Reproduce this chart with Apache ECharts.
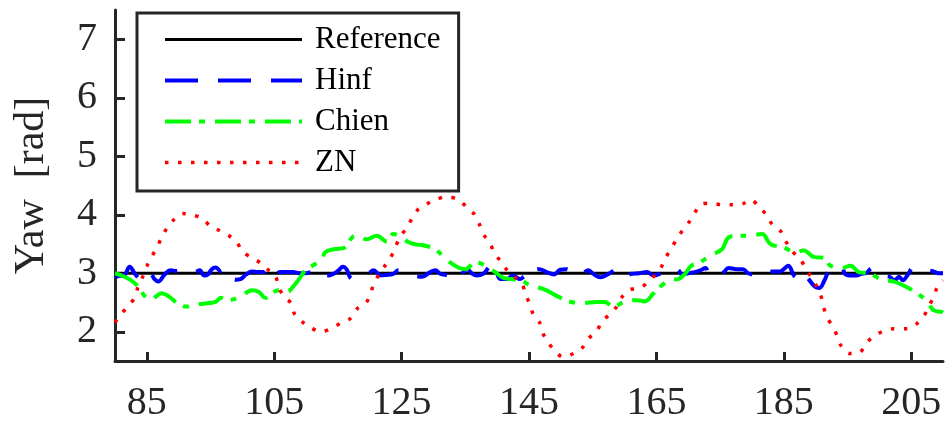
<!DOCTYPE html>
<html>
<head>
<meta charset="utf-8">
<script src="https://cdn.jsdelivr.net/npm/echarts@6/dist/echarts.min.js"></script>
<style>
html,body{margin:0;padding:0;background:#fff;}
#chart{width:947px;height:425px;}
</style>
</head>
<body>
<div id="chart"></div>
<script>
// ---- data ----
const seriesNames = ['Reference', 'Hinf', 'Chien', 'ZN'];
const xTicks = [85, 105, 125, 145, 165, 185, 205];
const yTicks = [2, 3, 4, 5, 6, 7];

const refT = [80, 210];
const refV = [3, 3];

const hinfT = [80, 80.5, 81.5, 82.3, 83.2, 84.0, 84.8, 85.6, 86.2, 86.8, 87.8, 88.7, 89.7, 90.7, 91.7, 92.5, 93.3, 94.0, 94.6, 95.2, 95.8, 96.6, 97.3, 98.1, 98.9, 99.7, 100.6, 101.5, 102.5, 103.3, 103.7, 104.1, 105.0, 106.0, 107.0, 108.0, 108.9, 109.9, 110.8, 111.4, 112.2, 113.3, 114.3, 115.1, 115.8, 116.4, 116.9, 117.4, 118.6, 119.8, 120.6, 121.3, 121.6, 122.6, 123.7, 124.5, 125.3, 126.3, 127.3, 128.2, 129.5, 130.3, 131.1, 132.4, 133.2, 134.0, 134.7, 135.3, 136.0, 136.8, 137.8, 138.6, 139.4, 140.5, 141.5, 142.5, 143.6, 144.4, 145.2, 146.0, 146.6, 147.8, 148.9, 149.9, 150.9, 151.9, 152.7, 153.5, 154.3, 155.1, 156.2, 157.5, 158.8, 159.5, 160.3, 161.1, 162.3, 163.5, 164.6, 165.8, 166.6, 167.4, 167.9, 168.5, 169.0, 170.0, 171.0, 171.9, 172.7, 173.4, 174.7, 175.6, 176.3, 177.6, 178.6, 179.4, 180.7, 182.0, 182.8, 184.4, 185.0, 185.7, 186.6, 187.2, 188.0, 188.9, 189.9, 190.6, 191.4, 192.0, 192.8, 194.1, 194.6, 195.6, 196.4, 197.2, 197.9, 198.9, 200.1, 200.6, 201.6, 202.4, 203.1, 203.7, 204.5, 205.3, 206.3, 207.6, 208.5, 209.3, 210];
const hinfV = [2.93, 2.95, 2.97, 3.11, 2.98, 2.90, 3.02, 3.00, 2.90, 2.86, 2.98, 3.05, 3.04, 3.07, 3.07, 3.02, 3.05, 2.96, 2.98, 3.07, 3.10, 3.04, 3.09, 2.96, 2.89, 2.90, 2.98, 3.03, 3.02, 3.02, 3.05, 2.92, 2.97, 3.02, 3.02, 3.02, 3.00, 3.00, 3.02, 2.93, 2.96, 2.96, 2.99, 3.05, 3.11, 3.06, 2.93, 2.90, 2.96, 3.00, 3.05, 2.99, 2.96, 2.97, 2.99, 3.05, 2.99, 2.96, 2.95, 2.94, 3.02, 3.05, 2.99, 2.96, 2.89, 2.90, 3.02, 3.07, 3.00, 2.96, 2.99, 3.09, 3.19, 2.90, 2.90, 2.96, 2.90, 2.95, 2.90, 3.05, 3.07, 3.02, 2.98, 3.06, 3.07, 2.99, 2.96, 3.00, 3.05, 2.99, 2.93, 2.99, 3.07, 2.96, 2.96, 2.99, 3.00, 3.02, 2.96, 3.00, 3.02, 3.05, 3.09, 3.05, 2.98, 3.00, 3.02, 3.05, 3.09, 2.96, 2.96, 3.02, 3.09, 3.07, 3.07, 3.00, 2.97, 2.96, 3.03, 3.03, 3.07, 3.13, 2.96, 2.92, 3.02, 2.90, 2.77, 2.75, 2.88, 3.02, 3.07, 3.13, 2.99, 2.96, 2.96, 2.99, 3.00, 3.09, 3.02, 2.96, 2.94, 2.88, 2.94, 2.88, 2.98, 3.09, 3.06, 3.05, 3.03, 3.00, 3.00];

const chienT = [80, 81.1, 82.2, 83.5, 84.8, 85.6, 86.3, 87.3, 88.5, 90.0, 91.3, 92.6, 93.9, 95.8, 96.6, 97.6, 99.7, 101.5, 102.6, 103.6, 104.9, 106.0, 107.0, 108.1, 108.9, 109.9, 111.0, 112.5, 113.0, 114.3, 116.1, 117.2, 118.0, 119.5, 121.1, 122.7, 123.7, 125.0, 126.1, 127.4, 128.7, 130.3, 131.6, 133.4, 135.0, 136.6, 138.4, 139.7, 140.8, 142.1, 143.7, 145.2, 147.3, 149.6, 151.2, 153.5, 155.6, 156.9, 158.2, 160.0, 161.9, 163.2, 164.5, 165.8, 167.4, 168.4, 169.5, 170.5, 171.9, 173.4, 175.3, 176.3, 177.6, 179.5, 181.6, 182.9, 185.0, 186.8, 188.1, 189.7, 191.5, 192.3, 194.1, 195.5, 196.8, 198.6, 199.6, 200.7, 202.2, 203.8, 205.9, 207.5, 208.5, 209.8, 210];
const chienV = [3.00, 2.96, 2.90, 2.79, 2.59, 2.55, 2.59, 2.66, 2.60, 2.47, 2.43, 2.47, 2.48, 2.51, 2.58, 2.54, 2.60, 2.71, 2.68, 2.58, 2.68, 2.71, 2.68, 2.79, 2.90, 3.05, 3.13, 3.24, 3.36, 3.41, 3.44, 3.61, 3.64, 3.58, 3.64, 3.54, 3.67, 3.61, 3.53, 3.49, 3.47, 3.41, 3.28, 3.13, 3.07, 3.19, 3.11, 3.02, 2.93, 2.90, 2.88, 2.79, 2.73, 2.60, 2.52, 2.49, 2.51, 2.51, 2.43, 2.51, 2.54, 2.52, 2.65, 2.79, 2.89, 2.90, 2.99, 3.13, 3.19, 3.30, 3.41, 3.61, 3.64, 3.64, 3.67, 3.50, 3.44, 3.36, 3.39, 3.28, 3.26, 3.13, 3.09, 3.13, 3.02, 3.00, 2.93, 2.88, 2.86, 2.79, 2.66, 2.52, 2.37, 2.34, 2.33];

const znT = [80, 81.1, 82.2, 83.1, 83.6, 84.4, 85.0, 85.8, 86.6, 87.3, 88.2, 89.2, 90.6, 92.1, 93.8, 95.0, 96.4, 97.9, 99.2, 100.0, 101.4, 102.8, 103.9, 105.2, 105.7, 106.5, 107.7, 108.2, 109.4, 110.7, 112.4, 114.0, 115.5, 117.0, 118.1, 119.4, 120.1, 120.7, 121.5, 122.4, 123.2, 124.0, 124.8, 125.8, 126.6, 127.5, 128.9, 130.4, 132.0, 133.9, 135.3, 136.4, 137.2, 137.9, 138.9, 139.5, 140.5, 141.5, 142.8, 143.9, 144.4, 145.1, 145.7, 146.7, 147.2, 148.0, 149.0, 150.3, 152.0, 153.4, 154.4, 155.6, 156.4, 157.6, 158.7, 159.5, 160.8, 162.3, 163.6, 164.7, 165.7, 166.4, 167.4, 168.2, 169.1, 170.1, 171.0, 172.0, 173.7, 175.3, 176.9, 178.6, 179.9, 181.0, 182.3, 183.2, 184.5, 185.3, 186.2, 187.4, 188.3, 189.2, 190.1, 190.8, 191.2, 191.8, 192.6, 193.4, 194.0, 195.3, 196.9, 197.8, 199.0, 200.6, 202.3, 204.3, 205.8, 207.0, 207.8, 208.5, 209.1, 210];
const znV = [2.16, 2.32, 2.45, 2.59, 2.76, 2.95, 3.12, 3.29, 3.44, 3.61, 3.78, 3.91, 4.02, 4.00, 3.93, 3.80, 3.73, 3.64, 3.52, 3.37, 3.27, 3.18, 3.07, 2.95, 2.76, 2.61, 2.48, 2.30, 2.17, 2.07, 2.00, 2.06, 2.15, 2.23, 2.40, 2.49, 2.66, 2.83, 2.99, 3.13, 3.25, 3.44, 3.63, 3.77, 3.93, 4.08, 4.18, 4.26, 4.31, 4.26, 4.12, 4.01, 3.84, 3.66, 3.51, 3.36, 3.21, 3.06, 2.93, 2.83, 2.65, 2.48, 2.29, 2.15, 1.97, 1.82, 1.68, 1.57, 1.63, 1.73, 1.89, 2.00, 2.17, 2.29, 2.42, 2.58, 2.72, 2.74, 2.84, 2.96, 3.09, 3.26, 3.43, 3.59, 3.73, 3.87, 4.03, 4.18, 4.20, 4.17, 4.17, 4.19, 4.26, 4.14, 4.00, 3.83, 3.72, 3.55, 3.39, 3.26, 3.12, 2.95, 2.79, 2.63, 2.44, 2.25, 2.10, 1.93, 1.76, 1.63, 1.64, 1.79, 1.91, 2.01, 2.05, 2.05, 2.13, 2.27, 2.44, 2.59, 2.76, 2.88];

// ---- build ----
function pairs(t, v) { return t.map((x, i) => [x, v[i]]); }
const FONT = 'Liberation Serif';
const AX = '#262626';
const styles = {
  Reference: {color: '#000000', width: 3, type: 'solid'},
  Hinf: {color: '#0000ff', width: 4, type: [33, 20]},
  Chien: {color: '#00ff00', width: 4, type: [26, 8, 6, 10]},
  ZN: {color: '#ff0000', width: 3.5, type: [3.5, 9.5]}
};

const chart = echarts.init(document.getElementById('chart'), null, {renderer: 'canvas'});
chart.setOption({
  animation: false,
  backgroundColor: '#fff',
  grid: {left: 115, right: 4, top: 10, bottom: 64, containLabel: false, outerBoundsMode: 'none'},
  legend: {
    orient: 'vertical', left: 137, top: 13,
    data: seriesNames.map(n => ({name: n, lineStyle: {width: styles[n].width, type: styles[n].type, color: styles[n].color}})),
    itemWidth: 137, itemHeight: 20, itemGap: 10,
    padding: [11, 18, 13, 26],
    borderColor: AX, borderWidth: 3, borderRadius: 0, backgroundColor: '#fff',
    itemStyle: {opacity: 0},
    textStyle: {fontFamily: FONT, fontSize: 31, color: '#000', padding: [0, 0, 0, 8]},
    selectedMode: false
  },
  xAxis: {
    type: 'value', min: 80, max: 210,
    axisLine: {onZero: false, lineStyle: {color: AX, width: 3}},
    axisTick: {inside: true, length: 9, lineStyle: {color: AX, width: 3}, customValues: xTicks},
    axisLabel: {customValues: xTicks, fontFamily: FONT, fontSize: 40, color: AX, margin: 22},
    splitLine: {show: false}
  },
  yAxis: {
    type: 'value', min: 1.5, max: 7.5,
    name: 'Yaw  [rad]', nameLocation: 'middle', nameGap: 62,
    nameTextStyle: {fontFamily: FONT, fontSize: 42, color: AX},
    axisLine: {show: true, onZero: false, lineStyle: {color: AX, width: 3}},
    axisTick: {show: true, inside: true, length: 10, lineStyle: {color: AX, width: 3}, customValues: yTicks},
    axisLabel: {customValues: yTicks, fontFamily: FONT, fontSize: 40, color: AX, margin: 18},
    splitLine: {show: false}
  },
  series: [
    {name: 'Reference', type: 'line', data: pairs(refT, refV), symbol: 'none',
     lineStyle: styles.Reference, itemStyle: {color: styles.Reference.color}},
    {name: 'Hinf', type: 'line', data: pairs(hinfT, hinfV), symbol: 'none', smooth: 0.4,
     lineStyle: styles.Hinf, itemStyle: {color: styles.Hinf.color}},
    {name: 'Chien', type: 'line', data: pairs(chienT, chienV), symbol: 'none', smooth: 0.4,
     lineStyle: styles.Chien, itemStyle: {color: styles.Chien.color}},
    {name: 'ZN', type: 'line', data: pairs(znT, znV), symbol: 'none', smooth: 0.3,
     lineStyle: styles.ZN, itemStyle: {color: styles.ZN.color}}
  ]
});
</script>
</body>
</html>
